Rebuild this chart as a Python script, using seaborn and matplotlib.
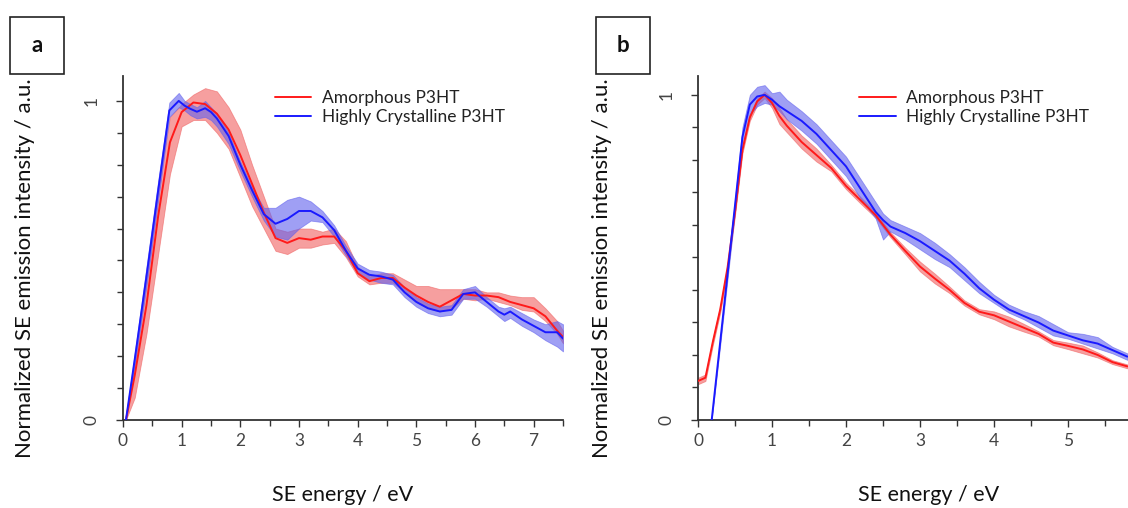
import numpy as np
import pandas as pd
import seaborn as sns
import matplotlib
matplotlib.use("Agg")
import matplotlib.pyplot as plt
from matplotlib.patches import Rectangle
from matplotlib.ticker import MultipleLocator, FixedLocator

# ---------------- data ----------------
series_names = ["Amorphous P3HT", "Highly Crystalline P3HT"]

# Panel a - Amorphous
a_red_x = [0.05, 0.2, 0.4, 0.6, 0.8, 1.0, 1.2, 1.4, 1.6, 1.8, 2.0, 2.2, 2.4, 2.6, 2.8, 3.0, 3.2, 3.4, 3.6, 3.8,
           4.0, 4.2, 4.4, 4.6, 4.8, 5.0, 5.2, 5.4, 5.6, 5.8, 6.0, 6.2, 6.4, 6.6, 6.8, 7.0, 7.2, 7.4, 7.5]
a_red_mean = [0.0, 0.14, 0.36, 0.64, 0.87, 0.965, 0.995, 0.99, 0.96, 0.91, 0.83, 0.74, 0.65, 0.57, 0.555, 0.57, 0.565,
              0.575, 0.575, 0.53, 0.46, 0.435, 0.445, 0.445, 0.415, 0.39, 0.37, 0.355, 0.375, 0.395, 0.39, 0.39,
              0.385, 0.37, 0.36, 0.35, 0.325, 0.28, 0.26]
a_red_hi = [0.02, 0.19, 0.44, 0.73, 0.95, 0.99, 1.02, 1.04, 1.03, 0.98, 0.91, 0.80, 0.70, 0.60, 0.59, 0.60, 0.60,
            0.59, 0.60, 0.56, 0.48, 0.45, 0.46, 0.46, 0.44, 0.42, 0.42, 0.41, 0.41, 0.41, 0.41, 0.40,
            0.40, 0.39, 0.385, 0.385, 0.35, 0.31, 0.28]
a_red_lo = [0.0, 0.07, 0.27, 0.52, 0.77, 0.92, 0.94, 0.94, 0.90, 0.85, 0.76, 0.67, 0.60, 0.53, 0.52, 0.54, 0.54,
            0.55, 0.555, 0.51, 0.45, 0.425, 0.43, 0.43, 0.40, 0.37, 0.35, 0.34, 0.35, 0.38, 0.375, 0.38,
            0.37, 0.36, 0.345, 0.34, 0.31, 0.27, 0.24]

# Panel a - Highly crystalline
a_blue_x = [0.05, 0.2, 0.4, 0.6, 0.79, 0.95, 1.05, 1.15, 1.26, 1.4, 1.5, 1.6, 1.8, 2.0, 2.2, 2.4, 2.6, 2.8, 3.0,
            3.2, 3.4, 3.6, 3.8, 4.0, 4.2, 4.4, 4.6, 4.8, 5.0, 5.2, 5.4, 5.6, 5.8, 6.0, 6.2, 6.4, 6.5, 6.6, 6.8,
            7.0, 7.2, 7.4, 7.5]
a_blue_mean = [0.0, 0.19, 0.45, 0.72, 0.97, 1.0, 0.985, 0.975, 0.966, 0.977, 0.965, 0.945, 0.89, 0.80, 0.72,
               0.645, 0.615, 0.63, 0.655, 0.655, 0.635, 0.595, 0.53, 0.475, 0.455, 0.45, 0.44, 0.40, 0.37, 0.35,
               0.34, 0.345, 0.395, 0.40, 0.37, 0.34, 0.33, 0.34, 0.315, 0.295, 0.275, 0.275, 0.255]
a_blue_hi = [0.01, 0.21, 0.48, 0.75, 0.995, 1.025, 1.0, 0.99, 0.98, 1.0, 0.98, 0.96, 0.90, 0.81, 0.73,
             0.665, 0.665, 0.69, 0.70, 0.685, 0.655, 0.61, 0.545, 0.49, 0.47, 0.465, 0.455, 0.415, 0.385, 0.365,
             0.355, 0.36, 0.41, 0.42, 0.385, 0.355, 0.35, 0.355, 0.335, 0.315, 0.30, 0.31, 0.30]
a_blue_lo = [0.0, 0.17, 0.42, 0.69, 0.95, 0.98, 0.97, 0.955, 0.945, 0.95, 0.94, 0.92, 0.865, 0.78, 0.70,
             0.625, 0.575, 0.565, 0.60, 0.625, 0.62, 0.575, 0.515, 0.46, 0.44, 0.43, 0.425, 0.385, 0.355, 0.335,
             0.325, 0.33, 0.38, 0.38, 0.355, 0.325, 0.31, 0.32, 0.295, 0.275, 0.25, 0.23, 0.215]

# Panel b - Amorphous
b_red_x = [0.0, 0.1, 0.2, 0.3, 0.4, 0.5, 0.6, 0.7, 0.8, 0.9, 1.0, 1.1, 1.2, 1.4, 1.6, 1.8, 2.0, 2.2, 2.4, 2.6,
           2.8, 3.0, 3.2, 3.4, 3.6, 3.8, 4.0, 4.2, 4.4, 4.6, 4.8, 5.0, 5.2, 5.4, 5.6, 5.8]
b_red_mean = [0.12, 0.13, 0.24, 0.34, 0.47, 0.64, 0.83, 0.93, 0.98, 1.0, 0.975, 0.935, 0.905, 0.855, 0.815, 0.775,
              0.72, 0.675, 0.63, 0.57, 0.52, 0.472, 0.435, 0.40, 0.36, 0.333, 0.322, 0.303, 0.284, 0.265, 0.238,
              0.228, 0.217, 0.20, 0.178, 0.165]
b_red_err = [0.01, 0.01, 0.01, 0.01, 0.01, 0.01, 0.01, 0.01, 0.01, 0.01, 0.015, 0.025, 0.02, 0.02, 0.02, 0.01,
             0.01, 0.01, 0.008, 0.008, 0.01, 0.015, 0.015, 0.01, 0.008, 0.008, 0.012, 0.015, 0.012, 0.008, 0.008,
             0.01, 0.012, 0.008, 0.006, 0.006]

# Panel b - Highly crystalline
b_blue_x = [0.185, 0.3, 0.4, 0.5, 0.6, 0.7, 0.8, 0.9, 1.0, 1.1, 1.2, 1.4, 1.6, 1.8, 2.0, 2.2, 2.4, 2.5, 2.6,
            2.8, 3.0, 3.2, 3.4, 3.6, 3.8, 4.0, 4.2, 4.4, 4.6, 4.8, 5.0, 5.2, 5.4, 5.6, 5.8]
b_blue_mean = [0.0, 0.24, 0.45, 0.66, 0.87, 0.97, 0.995, 1.0, 0.985, 0.965, 0.95, 0.92, 0.88, 0.83, 0.78, 0.71,
               0.64, 0.615, 0.595, 0.575, 0.55, 0.52, 0.49, 0.45, 0.405, 0.37, 0.34, 0.32, 0.30, 0.275, 0.26,
               0.245, 0.235, 0.215, 0.195]
b_blue_hi = [0.01, 0.25, 0.465, 0.68, 0.90, 1.0, 1.025, 1.03, 1.005, 1.01, 0.985, 0.95, 0.91, 0.86, 0.81,
             0.74, 0.67, 0.635, 0.615, 0.595, 0.575, 0.545, 0.51, 0.47, 0.425, 0.385, 0.355, 0.335, 0.32, 0.295,
             0.27, 0.265, 0.255, 0.225, 0.205]
b_blue_lo = [0.0, 0.23, 0.435, 0.64, 0.84, 0.94, 0.965, 0.975, 0.97, 0.95, 0.925, 0.89, 0.85, 0.80, 0.75,
             0.68, 0.62, 0.555, 0.58, 0.555, 0.525, 0.495, 0.47, 0.43, 0.39, 0.36, 0.33, 0.31, 0.285, 0.26,
             0.25, 0.235, 0.22, 0.205, 0.185]

panel_labels = ["a", "b"]
x_label = "SE energy / eV"
y_label = "Normalized SE emission intensity / a.u."

# ---------------- style ----------------
sns.set_style("ticks")
plt.rcParams["font.family"] = ["Lato", "DejaVu Sans"]

RED = "#ff1a1a"
BLUE = "#1a1aff"
RED_FILL = "#f06060"
BLUE_FILL = "#6060ee"

fig = plt.figure(figsize=(11.28, 5.08), dpi=100)
W, H = 1128.0, 508.0
ax_a = fig.add_axes([123 / W, 1 - 420 / H, (563 - 123) / W, (420 - 76) / H])
ax_b = fig.add_axes([698 / W, 1 - 420 / H, (1128 - 698) / W, (420 - 76) / H])


def build_df(x, y, name):
    return pd.DataFrame({"x": x, "y": y, "series": name})


def draw_panel(ax, red, blue, xmax, ymax, xlab_x, leg_anchor):
    rx, rm, rlo, rhi = red
    bx, bm, blo, bhi = blue
    ax.fill_between(rx, rlo, rhi, color=RED_FILL, alpha=0.6, linewidth=0.6, edgecolor=RED_FILL, zorder=1)
    ax.fill_between(bx, blo, bhi, color=BLUE_FILL, alpha=0.6, linewidth=0.6, edgecolor=BLUE_FILL, zorder=2)
    df = pd.concat([build_df(rx, rm, series_names[0]), build_df(bx, bm, series_names[1])])
    sns.lineplot(data=df, x="x", y="y", hue="series", palette=[RED, BLUE], ax=ax,
                 linewidth=1.4, sort=True, estimator=None, zorder=3)
    ax.set_xlim(0, xmax)
    ax.set_ylim(0, ymax)
    ax.xaxis.set_major_locator(MultipleLocator(1))
    ax.xaxis.set_minor_locator(MultipleLocator(0.5))
    ax.yaxis.set_major_locator(FixedLocator([0, 1]))
    ax.yaxis.set_minor_locator(FixedLocator([0.1 * i for i in range(1, 10)]))
    ax.tick_params(axis="both", which="both", direction="out", color="#333333", width=1.0)
    ax.tick_params(axis="both", which="major", length=5, labelsize=12.5, labelcolor="#444444", pad=4)
    ax.tick_params(axis="both", which="minor", length=4)
    for lab in ax.get_yticklabels():
        lab.set_rotation(90)
        lab.set_va("center")
    ax.tick_params(axis="y", pad=12)
    sns.despine(ax=ax)
    for s in ["left", "bottom"]:
        ax.spines[s].set_color("#333333")
        ax.spines[s].set_linewidth(1.3)
    ax.set_xlabel(x_label, fontsize=15.5, color="#111111")
    ax.set_ylabel(y_label, fontsize=16, color="#111111")
    ax.xaxis.set_label_coords(xlab_x, -0.19)
    ax.yaxis.set_label_coords(-0.2, 0.44)
    leg = ax.legend(loc="upper left", bbox_to_anchor=leg_anchor, frameon=False, fontsize=12.5,
                    handlelength=2.1, handletextpad=0.6, labelspacing=0.2, borderaxespad=0, borderpad=0)
    for t in leg.get_texts():
        t.set_color("#222222")


draw_panel(ax_a, (a_red_x, a_red_mean, a_red_lo, a_red_hi),
           (a_blue_x, a_blue_mean, a_blue_lo, a_blue_hi), 7.5, 1.078, 0.498, (0.345, 0.96))

b_red_lo = [m - e for m, e in zip(b_red_mean, b_red_err)]
b_red_hi = [m + e for m, e in zip(b_red_mean, b_red_err)]
draw_panel(ax_b, (b_red_x, b_red_mean, b_red_lo, b_red_hi),
           (b_blue_x, b_blue_mean, b_blue_lo, b_blue_hi), 5.81, 1.058, 0.537, (0.375, 0.96))

# panel label boxes
for lab, (x0, y0) in zip(panel_labels, [(10, 17), (596, 17)]):
    fig.patches.append(Rectangle((x0 / W, 1 - (y0 + 57) / H), 54 / W, 57 / H, transform=fig.transFigure,
                                 facecolor="white", edgecolor="#222222", linewidth=1.2))
    fig.text((x0 + 27) / W, 1 - (y0 + 28.5) / H, lab, ha="center", va="center", fontsize=16,
             fontweight="bold", color="#111111")

fig.savefig("out.png", dpi=100)
